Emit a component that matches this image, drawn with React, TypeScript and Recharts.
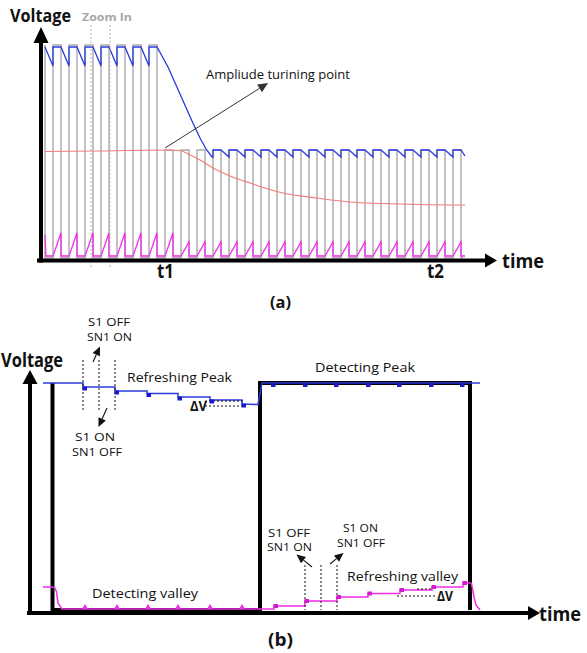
import { ComposedChart, Line, XAxis, YAxis, ReferenceLine } from 'recharts';

type Pt = { t: number; v: number };

// ---------- (a) whole run: input pulses, peak / valley detector outputs, threshold
const cycleStart = [5, 21, 37, 53, 69, 85, 101, 117, 133, 149, 165, 181, 197, 213, 229, 245, 261, 277, 293, 309, 325, 341, 357, 373, 389, 405];
const halfPeriod = 8;
const traceEnd = 424;
const inputLow = 2;
const inputHigh = [215, 215, 215, 215, 215, 215, 215, 110, 110, 110, 110, 110, 110, 110, 110, 110, 110, 110, 110, 110, 110, 110, 110, 110, 110, 110];
const peakHold = [213, 213, 213, 213, 213, 213, 213, null, null, null, 110, 110, 110, 110, 110, 110, 110, 110, 110, 110, 110, 110, 110, 110, 110, 110];
const peakDroop = [194, 194, 194, 194, 194, 194, 194, null, null, null, 103, 103, 103, 103, 103, 103, 103, 103, 103, 103, 103, 103, 103, 103, 103, 103];
const peakFall: Pt[] = [
  { t: 128, v: 193 }, { t: 140, v: 166 }, { t: 152, v: 139 }, { t: 160, v: 122 }, { t: 166, v: 111 }, { t: 172, v: 103 },
];
const valleyBase = 4;
const valleyTop = [27, 27, 27, 27, 27, 27, 27, 27, 18, 18, 18, 18, 18, 18, 18, 18, 18, 18, 18, 18, 18, 18, 18, 18, 18, 18];
const threshold: Pt[] = [
  { t: 5, v: 108.5 }, { t: 60, v: 109 }, { t: 125, v: 110 }, { t: 140, v: 109.5 }, { t: 150, v: 105 },
  { t: 160, v: 100 }, { t: 173, v: 92 }, { t: 190, v: 84 }, { t: 210, v: 77 }, { t: 243, v: 67 },
  { t: 277, v: 62 }, { t: 310, v: 58 }, { t: 344, v: 56.5 }, { t: 377, v: 55.5 }, { t: 425, v: 55 },
];

const inputA: Pt[] = [{ t: cycleStart[0], v: inputHigh[0] }];
cycleStart.forEach((s, k) => {
  inputA.push(
    { t: s, v: inputLow },
    { t: s + halfPeriod, v: inputLow },
    { t: s + halfPeriod, v: inputHigh[k] },
    { t: s + 2 * halfPeriod, v: inputHigh[k] },
  );
});
inputA.push({ t: cycleStart[cycleStart.length - 1] + 2 * halfPeriod, v: inputLow }, { t: traceEnd - 1, v: inputLow });

const peakA: Pt[] = [{ t: cycleStart[0], v: peakHold[0] as number }];
cycleStart.forEach((s, k) => {
  const hold = peakHold[k];
  if (hold == null) return;
  const hi = s + halfPeriod;
  peakA.push({ t: hi, v: peakDroop[k] as number }, { t: hi, v: hold }, { t: hi + halfPeriod, v: hold });
  if (k + 1 < peakHold.length && peakHold[k + 1] == null) peakA.push(...peakFall);
});
peakA.push({ t: traceEnd + 1, v: 104 });

const valleyA: Pt[] = [{ t: cycleStart[0], v: 25 }, { t: cycleStart[0] + 1, v: valleyBase }];
cycleStart.forEach((s, k) => {
  valleyA.push(
    { t: s + halfPeriod, v: valleyBase },
    { t: s + 2 * halfPeriod, v: valleyTop[k] },
    { t: s + 2 * halfPeriod, v: valleyBase },
  );
});
valleyA.push({ t: traceEnd + 1, v: valleyBase });

// ---------- (b) zoom: one refresh / detect period
const pulseB: Pt[] = [
  { t: 22.5, v: 230 }, { t: 22.5, v: 3 }, { t: 230, v: 3 }, { t: 230, v: 230 }, { t: 440, v: 230 }, { t: 440, v: 3 },
];
const refreshPeakSteps = [53, 85, 117, 148, 180, 212];
const refreshPeakLevel = [230, 226, 222, 219.5, 216, 213, 209];
const detectPeakLevel = 230;
const detectPeakSamples = [243, 275, 306, 338, 369, 401, 432];
const detectValleySamples = [55, 87, 118, 148, 180, 212];
const refreshValleySteps = [244, 275, 307, 338, 370, 402, 433];
const refreshValleyLevel = [4, 7, 12, 16, 19.5, 23, 26, 30];
const valleyRelease: Pt[] = [
  { t: 440, v: 30 }, { t: 441.5, v: 29.5 }, { t: 444, v: 16 }, { t: 446, v: 8 }, { t: 450, v: 3 },
];
const valleyStart: Pt[] = [
  { t: 13, v: 26 }, { t: 22, v: 26 }, { t: 25, v: 25 }, { t: 26.5, v: 21 }, { t: 28, v: 10 }, { t: 32, v: 4 },
];

const peakB: Pt[] = [{ t: 13, v: refreshPeakLevel[0] }];
refreshPeakSteps.forEach((s, i) => {
  peakB.push({ t: s, v: refreshPeakLevel[i] }, { t: s, v: refreshPeakLevel[i + 1] });
});
peakB.push({ t: 228, v: 208.5 }, { t: 232, v: detectPeakLevel }, { t: 450, v: detectPeakLevel });

const peakMarksB: Pt[] = [
  ...refreshPeakSteps.map((s, i) => ({ t: s + 1.5, v: refreshPeakLevel[i + 1] - 1.5 })),
  ...detectPeakSamples.map((t) => ({ t, v: detectPeakLevel - 2 })),
];

const valleyB: Pt[] = [...valleyStart];
refreshValleySteps.forEach((s, i) => {
  valleyB.push({ t: s, v: refreshValleyLevel[i] }, { t: s, v: refreshValleyLevel[i + 1] });
});
valleyB.push(...valleyRelease);

const valleyTicksB: Pt[] = detectValleySamples.map((t) => ({ t, v: 4 }));
const valleyMarksB: Pt[] = refreshValleySteps.map((s, i) => ({ t: s + 1.5, v: refreshValleyLevel[i + 1] }));

const FONT = "'Open Sans', 'DejaVu Sans', sans-serif";
const BLUE = '#2b3bdc';
const MAGENTA = '#f02ee6';

const arrow = (color: string, width: number, head: number, half: number) => (p: any) => {
  const { x1, y1, x2, y2 } = p;
  const a = Math.atan2(y2 - y1, x2 - x1);
  const bx = x2 - head * Math.cos(a);
  const by = y2 - head * Math.sin(a);
  const dx = half * Math.sin(a);
  const dy = half * Math.cos(a);
  return (
    <g>
      <line x1={x1} y1={y1} x2={bx} y2={by} stroke={color} strokeWidth={width} />
      <polygon points={`${x2},${y2} ${bx + dx},${by - dy} ${bx - dx},${by + dy}`} fill={color} />
    </g>
  );
};

const squareDot = (fill: string) => (p: any) => (
  <rect key={`s${p.index}`} x={p.cx - 2} y={p.cy - 2} width={4.5} height={4} fill={fill} />
);
const triDot = (fill: string) => (p: any) => (
  <polygon key={`t${p.index}`} points={`${p.cx - 3},${p.cy} ${p.cx},${p.cy - 5} ${p.cx + 3},${p.cy}`} fill={fill} />
);

type TProps = { x: number; y: number; w: number; size: number; bold?: boolean; fill?: string; mid?: boolean; children: string };
const T = ({ x, y, w, size, bold, fill, mid, children }: TProps) => (
  <text
    x={x}
    y={y}
    fontSize={size}
    fontWeight={bold ? 700 : 400}
    fill={fill ?? '#111'}
    fontFamily={FONT}
    textLength={w}
    lengthAdjust="spacingAndGlyphs"
    textAnchor={mid ? 'middle' : 'start'}
  >
    {children}
  </text>
);

const dotted = { stroke: '#111', strokeWidth: 1, strokeDasharray: '2 2', ifOverflow: 'visible' as const };

export default function App() {
  return (
    <div style={{ position: 'absolute', left: 0, top: 0, width: 587, height: 653, background: '#fff', overflow: 'hidden' }}>
      <div style={{ position: 'absolute', left: 0, top: 0 }}>
        <ComposedChart width={587} height={300} margin={{ top: 20, right: 47, bottom: 40, left: 40 }}>
          <XAxis dataKey="t" type="number" domain={[0, 500]} allowDataOverflow hide />
          <YAxis type="number" domain={[0, 240]} allowDataOverflow hide />
          <Line data={inputA} dataKey="v" type="linear" stroke="#a9a9a9" strokeWidth={1.4} dot={false} isAnimationActive={false} />
          <Line data={threshold} dataKey="v" type="monotone" stroke="#f27b7b" strokeWidth={1.1} dot={false} isAnimationActive={false} />
          <Line data={peakA} dataKey="v" type="linear" stroke={BLUE} strokeWidth={1.3} dot={false} isAnimationActive={false} />
          <Line data={valleyA} dataKey="v" type="linear" stroke={MAGENTA} strokeWidth={1.3} dot={false} isAnimationActive={false} />
          <ReferenceLine segment={[{ x: 51, y: 235 }, { x: 51, y: -8 }]} {...dotted} stroke="#b5b5b5" />
          <ReferenceLine segment={[{ x: 70, y: 235 }, { x: 70, y: -8 }]} {...dotted} stroke="#b5b5b5" />
          <ReferenceLine segment={[{ x: 1, y: -2.5 }, { x: 1, y: 233 }]} ifOverflow="visible" shape={arrow('#000', 4, 16, 7.5)} />
          <ReferenceLine segment={[{ x: -3, y: -0.5 }, { x: 457, y: -0.5 }]} ifOverflow="visible" shape={arrow('#000', 4, 12, 7)} />
          <ReferenceLine segment={[{ x: 125, y: 112 }, { x: 228, y: 177 }]} ifOverflow="visible" shape={arrow('#333', 1, 10, 4.5)} />
        </ComposedChart>
      </div>

      <div style={{ position: 'absolute', left: 0, top: 300 }}>
        <ComposedChart width={587} height={353} margin={{ top: 33, right: 37, bottom: 40, left: 30 }}>
          <XAxis dataKey="t" type="number" domain={[0, 520]} allowDataOverflow hide />
          <YAxis type="number" domain={[0, 280]} allowDataOverflow hide />
          <ReferenceLine segment={[{ x: 0, y: -2 }, { x: 0, y: 243 }]} ifOverflow="visible" shape={arrow('#000', 4, 14, 7.5)} />
          <ReferenceLine segment={[{ x: -3, y: 0 }, { x: 510, y: 0 }]} ifOverflow="visible" shape={arrow('#000', 4, 12, 7)} />
          <Line data={pulseB} dataKey="v" type="linear" stroke="#000" strokeWidth={4} dot={false} isAnimationActive={false} />
          <Line data={peakB} dataKey="v" type="linear" stroke={BLUE} strokeWidth={1.5} dot={false} isAnimationActive={false} />
          <Line data={peakMarksB} dataKey="v" stroke="none" dot={squareDot('#1a1ac8')} isAnimationActive={false} />
          <Line data={valleyB} dataKey="v" type="linear" stroke={MAGENTA} strokeWidth={1.5} dot={false} isAnimationActive={false} />
          <Line data={valleyTicksB} dataKey="v" stroke="none" dot={triDot(MAGENTA)} isAnimationActive={false} />
          <Line data={valleyMarksB} dataKey="v" stroke="none" dot={squareDot('#d21cd0')} isAnimationActive={false} />

          <ReferenceLine segment={[{ x: 53, y: 253 }, { x: 53, y: 201 }]} {...dotted} />
          <ReferenceLine segment={[{ x: 69, y: 253 }, { x: 69, y: 201 }]} {...dotted} />
          <ReferenceLine segment={[{ x: 85, y: 253 }, { x: 85, y: 201 }]} {...dotted} />
          <ReferenceLine segment={[{ x: 175, y: 212 }, { x: 215, y: 212 }]} {...dotted} />
          <ReferenceLine segment={[{ x: 175, y: 207 }, { x: 215, y: 207 }]} {...dotted} />
          <ReferenceLine segment={[{ x: 275, y: 48 }, { x: 275, y: 3 }]} {...dotted} />
          <ReferenceLine segment={[{ x: 291, y: 48 }, { x: 291, y: 3 }]} {...dotted} />
          <ReferenceLine segment={[{ x: 307, y: 48 }, { x: 307, y: 3 }]} {...dotted} />
          <ReferenceLine segment={[{ x: 387, y: 24 }, { x: 402, y: 24 }]} {...dotted} />
          <ReferenceLine segment={[{ x: 367, y: 17 }, { x: 405, y: 17 }]} {...dotted} />

          <ReferenceLine segment={[{ x: 63, y: 251 }, { x: 70, y: 266.5 }]} ifOverflow="visible" shape={arrow('#111', 1.1, 9, 4)} />
          <ReferenceLine segment={[{ x: 77, y: 205 }, { x: 68.5, y: 186 }]} ifOverflow="visible" shape={arrow('#111', 1.1, 9, 4)} />
          <ReferenceLine segment={[{ x: 282, y: 46 }, { x: 266.5, y: 58.5 }]} ifOverflow="visible" shape={arrow('#111', 1.1, 9, 4)} />
          <ReferenceLine segment={[{ x: 300, y: 49 }, { x: 313.5, y: 60 }]} ifOverflow="visible" shape={arrow('#111', 1.1, 9, 4)} />
        </ComposedChart>
      </div>

      <svg width={587} height={653} style={{ position: 'absolute', left: 0, top: 0, pointerEvents: 'none' }}>
        <T x={10} y={22} w={61} size={17} bold>Voltage</T>
        <T x={82} y={20.5} w={50} size={11} bold fill="#a6a6a6">Zoom In</T>
        <T x={206} y={79} w={144} size={12}>Ampliude turining point</T>
        <T x={157} y={278} w={17} size={20} bold>t1</T>
        <T x={427} y={278} w={17} size={20} bold>t2</T>
        <T x={502} y={268} w={42} size={20} bold>time</T>
        <T x={270} y={308} w={21} size={16} bold>(a)</T>

        <T x={1} y={367} w={62} size={19} bold>Voltage</T>
        <T x={109} y={326} w={42} size={11} mid>S1 OFF</T>
        <T x={109.5} y={341} w={45} size={11} mid>SN1 ON</T>
        <T x={95} y={441} w={40} size={11} mid>S1 ON</T>
        <T x={97} y={456} w={50} size={11} mid>SN1 OFF</T>
        <T x={127} y={382} w={105} size={12.5}>Refreshing Peak</T>
        <T x={190} y={411} w={17} size={14} bold>ΔV</T>
        <T x={315} y={372} w={100} size={12.5}>Detecting Peak</T>
        <T x={92} y={598} w={106} size={12.5}>Detecting valley</T>
        <T x={289} y={537} w={42} size={11} mid>S1 OFF</T>
        <T x={289.5} y={551} w={45} size={11} mid>SN1 ON</T>
        <T x={360.5} y={532} w={35} size={11} mid>S1 ON</T>
        <T x={361} y={547} w={48} size={11} mid>SN1 OFF</T>
        <T x={347} y={581} w={111} size={12.5}>Refreshing valley</T>
        <T x={437} y={601} w={16} size={14} bold>ΔV</T>
        <T x={539} y={621} w={42} size={20} bold>time</T>
        <T x={268} y={646} w={25} size={17} bold>(b)</T>
      </svg>
    </div>
  );
}
